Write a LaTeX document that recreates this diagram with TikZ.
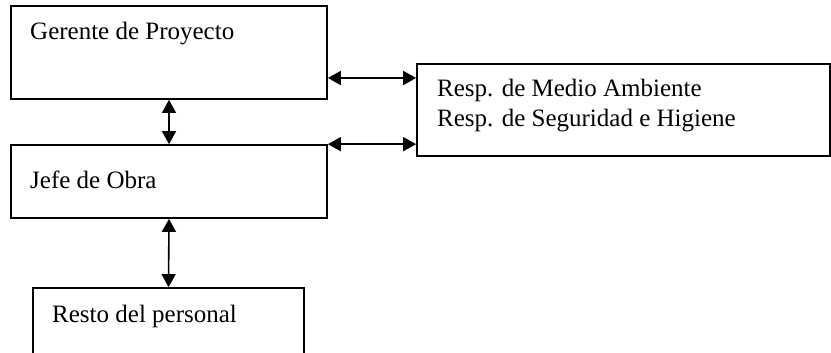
\documentclass[tikz,border=0pt]{standalone}
\usepackage{fontspec}
\setmainfont{Liberation Serif}
\usetikzlibrary{arrows.meta}
\begin{document}
\begin{tikzpicture}[x=1pt,y=-1pt,
  box/.style={draw, line width=1.7pt, minimum width=#1, inner sep=0pt},
  lbl/.style={anchor=base west, inner sep=0pt, font=\fontsize{25}{29}\selectfont, align=left},
  link/.style={line width=1.6pt, {Triangle[length=13pt,width=14pt]}-{Triangle[length=13pt,width=14pt]}}]
\useasboundingbox (0,0) rectangle (831,353);
\clip (0,0) rectangle (831,353);
\node[box=316pt, minimum height=93pt] (g) at (169,52.5) {};
\node[box=316pt, minimum height=73pt] (j) at (169,181.5) {};
\node[box=413pt, minimum height=92pt] (m) at (623.5,110) {};
\node[box=271pt, minimum height=92pt] (r) at (168.5,334) {};
\node[lbl] (tg) at (30,40) {Gerente de Proyecto};
\node[lbl] (tj) at (30,188) {Jefe de Obra};
\node[lbl] (tm) at (437,97) {Resp. de Medio Ambiente};
\node[lbl] (tm2) at (437,126) {Resp. de Seguridad e Higiene};
\node[lbl] (tr) at (52,322) {Resto del personal};
\coordinate (h1) at (0,78);
\draw[link] (g.south) -- (j.north);
\draw[link] (j.south) -- (r.north);
\draw[link] (g.east |- h1) -- (m.west |- h1);
\draw[link] (j.north east) -- (m.west |- j.north east);
\end{tikzpicture}
\end{document}
